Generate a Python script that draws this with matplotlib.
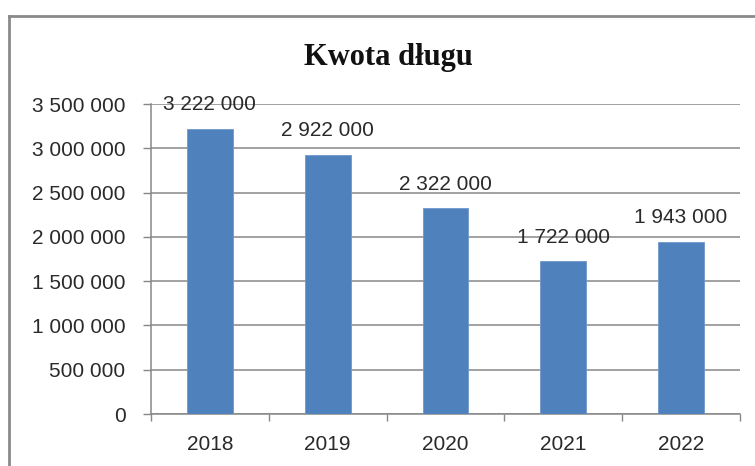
import matplotlib
matplotlib.use("Agg")
import matplotlib.pyplot as plt
from matplotlib.lines import Line2D
from matplotlib.ticker import FuncFormatter, FixedLocator

years = ["2018", "2019", "2020", "2021", "2022"]
values = [3222000, 2922000, 2322000, 1722000, 1943000]
title = "Kwota długu"

def fmt(v):
    return f"{int(v):,}".replace(",", " ")

fig = plt.figure(figsize=(7.55, 4.66), dpi=100)
ax = fig.add_axes([151/755, 52/466, 589/755, 310/466])

x = list(range(len(years)))
ax.bar(x, values, width=0.39, color="#4F81BD", edgecolor="#7097CC", linewidth=0.6, zorder=3)

ax.set_xlim(-0.5, len(years) - 0.5)
ax.set_ylim(0, 3500000)
ax.yaxis.set_major_locator(FixedLocator([i * 500000 for i in range(8)]))
ax.yaxis.set_major_formatter(FuncFormatter(lambda v, p: fmt(v)))
ax.grid(axis="y", color="#878787", linewidth=1.1, zorder=0)

ax.set_xticks(x)
ax.set_xticklabels(years)
ax.set_xticks([i - 0.5 for i in range(len(years) + 1)], minor=True)
ax.tick_params(axis="x", which="major", length=0, pad=15)
ax.tick_params(axis="x", which="minor", length=5, width=1, color="#878787", direction="out")
ax.tick_params(axis="y", length=5.8, width=1, color="#878787", direction="out", pad=12.5)

FS = 15
for lbl in ax.get_xticklabels() + ax.get_yticklabels():
    lbl.set_fontfamily("Liberation Sans")
    lbl.set_fontsize(FS)
    lbl.set_color("#2a2a2a")

for s in ["top", "right"]:
    ax.spines[s].set_visible(False)
for s in ["left", "bottom"]:
    ax.spines[s].set_color("#878787")
    ax.spines[s].set_linewidth(1.1)

for xi, v in zip(x, values):
    ax.annotate(fmt(v), (xi, v), xytext=(0, 17.5), textcoords="offset points",
                ha="center", va="center", fontfamily="Liberation Sans", fontsize=FS,
                color="#2a2a2a", zorder=4)

fig.text(388/755, 1 - 58/466, title, ha="center", va="center",
         fontfamily="Liberation Serif", fontweight="bold", fontsize=22, color="#111111")

# chart frame (left and top edges visible)
fig.add_artist(Line2D([9/755, 9/755], [0, 1 - 16/466], transform=fig.transFigure,
                      color="#8a8a8a", linewidth=2))
fig.add_artist(Line2D([9/755, 1], [1 - 16/466, 1 - 16/466], transform=fig.transFigure,
                      color="#8a8a8a", linewidth=2))

fig.savefig("out.png", dpi=100)
